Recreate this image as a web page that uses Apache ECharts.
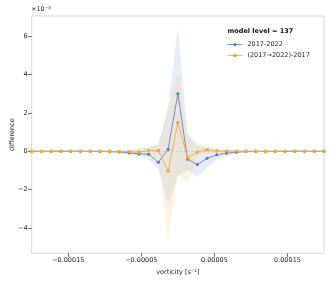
<!DOCTYPE html>
<html><head><meta charset="utf-8">
<script src="https://cdn.jsdelivr.net/npm/echarts@6/dist/echarts.min.js"></script>
<style>html,body{margin:0;padding:0;background:#fff}#c{width:332px;height:285px}</style>
</head><body><div id="c"></div>
<script>
// vorticity bins [s^-1]
const vorticity = [-0.0002,-0.00018667,-0.00017333,-0.00016,-0.00014667,-0.00013333,-0.00012,-0.00010667,-0.00009333,-0.00008,-0.00006667,-0.00005333,-0.00004,-0.00002667,-0.00001333,0,0.00001333,0.00002667,0.00004,0.00005333,0.00006667,0.00008,0.00009333,0.00010667,0.00012,0.00013333,0.00014667,0.00016,0.00017333,0.00018667,0.0002];
// difference values, in units of 1e-3
const diff2017_2022 = [0,0,0,0,0,0,0,-0.01,-0.02,-0.04,-0.08,-0.14,-0.16,-0.58,0.1,3.0,-0.42,-0.7,-0.37,-0.19,-0.1,-0.05,-0.02,-0.01,0,0,0,0,0,0,0];
const upper2017_2022 = [0.01,0.01,0.01,0.01,0.01,0.02,0.02,0.02,0.03,0.05,0.07,0.12,0.2,0.35,2.4,6.5,0.9,0.35,0.15,0.05,0.03,0.02,0.01,0.01,0.01,0.01,0.01,0.01,0.01,0.01,0.01];
const lower2017_2022 = [-0.01,-0.01,-0.01,-0.01,-0.02,-0.02,-0.03,-0.04,-0.07,-0.12,-0.2,-0.32,-0.45,-0.95,-2.75,-1.3,-1.0,-1.35,-0.85,-0.45,-0.28,-0.14,-0.07,-0.04,-0.02,-0.01,-0.01,-0.01,-0.01,-0.01,-0.01];
const diffTransfer = [0,0,0,0,0,0,0,0,0,-0.01,-0.02,-0.05,0.03,0.03,-1.04,1.5,-0.35,-0.05,0.08,0.01,0.01,0,0,0,0,0,0,0,0,0,0];
const upperTransfer = [0.01,0.01,0.01,0.01,0.01,0.01,0.01,0.01,0.02,0.03,0.06,0.12,0.22,0.35,2.1,4.1,0.93,0.28,0.33,0.15,0.08,0.04,0.02,0.01,0.01,0.01,0.01,0.01,0.01,0.01,0.01];
const lowerTransfer = [-0.01,-0.01,-0.01,-0.01,-0.01,-0.01,-0.01,-0.01,-0.01,-0.04,-0.08,-0.2,-0.25,-0.4,-4.8,-1.2,-1.7,-0.2,-0.15,-0.1,-0.06,-0.03,-0.02,-0.01,-0.01,-0.01,-0.01,-0.01,-0.01,-0.01,-0.01];
const seriesNames = ['2017-2022','(2017\u21922022)-2017'];
const xTickValues = [-0.00015,-0.00005,0.00005,0.00015];
const xTickLabels = ['\u22120.00015','\u22120.00005','0.00005','0.00015'];
const yTickValues = [-4,-2,0,2,4,6];
const yTickLabels = ['\u22124','\u22122','0','2','4','6'];

const FONT = 'DejaVu Sans';
const BLUE = '#5077b8', ORANGE = '#f0a633';
function pairs(ys){ return vorticity.map((x,i)=>[x, ys[i]]); }
function lookup(vals, labels, v){ let b=0; for(let i=0;i<vals.length;i++){ if(Math.abs(vals[i]-v)<Math.abs(vals[b]-v)) b=i; } return labels[b]; }
function band(upper, lower, fill){
  return {type:'custom', coordinateSystem:'cartesian2d', silent:true, z:1, clip:true,
    data:[[0,0]],
    renderItem:function(params, api){
      const pts=[];
      for(let i=0;i<vorticity.length;i++) pts.push(api.coord([vorticity[i], upper[i]]));
      for(let i=vorticity.length-1;i>=0;i--) pts.push(api.coord([vorticity[i], lower[i]]));
      return {type:'polygon', shape:{points:pts}, style:{fill:fill, stroke:null}};
    }};
}
const chart = echarts.init(document.getElementById('c'), null, {renderer:'canvas'});
chart.setOption({
  animation:false,
  grid:{left:31.7, right:8, top:16, bottom:31.7, show:true, borderColor:'#cccccc', borderWidth:0.8, backgroundColor:'transparent', outerBoundsMode:'none', containLabel:false},
  xAxis:{type:'value', min:-0.0002, max:0.0002,
    name:'vorticity [s\u207B\u00B9]', nameLocation:'middle', nameGap:15.5, nameMoveOverlap:false,
    nameTextStyle:{fontFamily:FONT, fontSize:6.5, color:'#222'},
    axisLine:{show:false, onZero:false}, splitLine:{show:false},
    axisTick:{show:true, length:3.5, lineStyle:{color:'#444', width:0.8}, customValues:xTickValues},
    axisLabel:{fontFamily:FONT, fontSize:6.5, color:'#222', margin:4, customValues:xTickValues,
      formatter:v=>lookup(xTickValues,xTickLabels,v)}},
  yAxis:{type:'value', min:-5.33, max:7.06,
    name:'difference', nameLocation:'middle', nameGap:16, nameRotate:90, nameMoveOverlap:false,
    nameTextStyle:{fontFamily:FONT, fontSize:6.5, color:'#222'},
    axisLine:{show:false, onZero:false}, splitLine:{show:false},
    axisTick:{show:true, length:3.5, lineStyle:{color:'#444', width:0.8}, customValues:yTickValues},
    axisLabel:{fontFamily:FONT, fontSize:6.5, color:'#222', margin:4, customValues:yTickValues,
      formatter:v=>lookup(yTickValues,yTickLabels,v)}},
  legend:{show:true, data:seriesNames, orient:'vertical', left:227, top:41, padding:0, itemWidth:15, itemHeight:4, itemGap:4,
    lineStyle:{width:0.8}, textStyle:{fontFamily:FONT, fontSize:6.5, color:'#222'}},
  graphic:[
    {type:'text', left:31, top:6, style:{text:'\u00D710\u207B\u00B3', fontFamily:FONT, fontSize:6.5, fill:'#222'}},
    {type:'text', left:227.5, top:28, style:{text:'model level = 137', fontFamily:FONT, fontSize:6.5, fontWeight:'bold', fill:'#111'}}
  ],
  series:[
    band(upper2017_2022, lower2017_2022, 'rgba(76,114,176,0.13)'),
    band(upperTransfer, lowerTransfer, 'rgba(240,165,50,0.13)'),
    {type:'line', name:seriesNames[0], data:pairs(diff2017_2022), z:3,
      symbol:'circle', symbolSize:3, showSymbol:true,
      lineStyle:{color:BLUE, width:0.8}, itemStyle:{color:BLUE},
      markLine:{silent:true, symbol:'none', label:{show:false},
        lineStyle:{color:'#bbbbbb', type:[2,2], width:0.7}, data:[{yAxis:0}]}},
    {type:'line', name:seriesNames[1], data:pairs(diffTransfer), z:4,
      symbol:'rect', symbolSize:3, showSymbol:true,
      lineStyle:{color:ORANGE, width:0.8}, itemStyle:{color:ORANGE}}
  ]
});
</script></body></html>
